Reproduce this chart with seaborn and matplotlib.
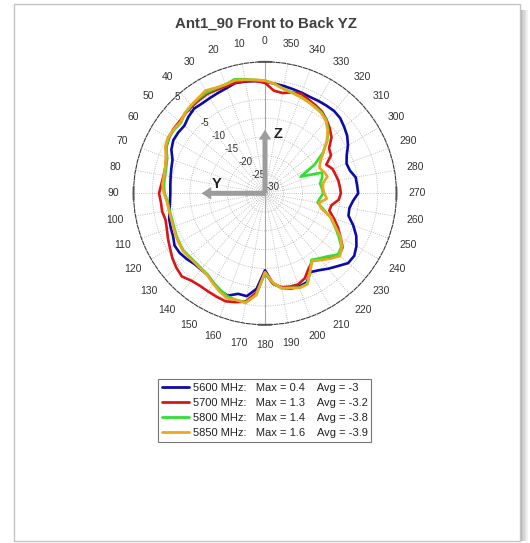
import numpy as np
import pandas as pd
import matplotlib
matplotlib.use("Agg")
import matplotlib.pyplot as plt
from matplotlib.patches import Rectangle
from matplotlib.lines import Line2D
import seaborn as sns

# Measured gain (dB) every 5 degrees, 0..355
angles_deg = list(range(0, 360, 5))

gain_5600 = [-0.3, 0.0, 0.2, 0.4, -0.2, -0.5, -0.7, -0.8, -0.6, -1.2, -2.0, -1.8,
             -1.8, -2.5, -3.8, -4.2, -4.5, -4.7, -4.8, -4.6, -4.2, -3.6, -3.3, -3.0,
             -2.2, -2.3, -2.8, -3.4, -3.5, -3.4, -2.5, -1.5, -1.0, -2.3, -2.2, -4.5,
             -9.5, -6.0, -4.5, -3.7, -3.6, -3.8, -5.8, -5.0, -3.8, -2.6, -1.1, -1.0,
             -1.9, -3.2, -5.0, -7.0, -7.2, -6.5, -5.2, -5.4, -5.5, -6.6, -6.9, -6.0,
             -4.5, -3.3, -2.5, -1.7, -1.4, -1.5, -1.6, -1.7, -1.5, -1.3, -1.0, -0.7]

gain_5700 = [-0.6, 0.0, 0.3, 0.5, 0.3, 0.4, 0.6, 0.4, 0.2, 0.0, -0.3, -0.2,
             -0.5, -1.0, -2.0, -2.6, -2.6, -2.3, -1.8, -2.2, -2.2, -2.6, -2.2, -1.5,
             -0.8, 0.1, 0.8, 1.3, 0.4, 0.1, 0.2, 0.4, 0.6, 0.0, -0.8, -3.5,
             -8.8, -5.8, -4.6, -4.3, -4.2, -5.0, -6.8, -8.0, -7.0, -5.7, -4.3, -4.8,
             -6.8, -8.6, -10.5, -12.3, -12.0, -10.3, -9.8, -10.0, -10.2, -10.6, -10.9, -12.0,
             -9.7, -9.2, -6.9, -5.6, -4.5, -3.5, -3.0, -2.5, -1.8, -2.2, -2.9, -2.6]

gain_5800 = [0.0, 0.3, 0.8, 1.4, 0.8, 0.8, 1.0, 0.8, 0.5, 0.1, -0.8, -0.5,
             -0.4, -1.0, -2.3, -2.8, -3.0, -3.0, -3.3, -4.0, -4.2, -4.3, -4.2, -3.9,
             -3.7, -3.5, -3.8, -3.9, -3.8, -3.5, -2.5, -1.7, -0.8, -0.6, -0.5, -2.8,
             -8.8, -6.0, -4.3, -3.9, -3.3, -3.4, -6.0, -8.4, -7.4, -6.3, -4.6, -5.2,
             -7.4, -9.6, -11.5, -14.0, -15.8, -15.3, -14.5, -14.8, -15.1, -14.3, -13.8, -19.5,
             -14.8, -11.2, -8.4, -6.2, -4.6, -3.8, -3.4, -3.0, -2.6, -2.2, -1.7, -0.8]

gain_5850 = [0.0, 0.3, 0.7, 1.1, 0.8, 1.0, 1.6, 1.0, 0.6, 0.2, -0.6, -0.3,
             -0.2, -0.7, -2.0, -2.5, -2.7, -2.6, -3.1, -3.8, -4.0, -4.1, -4.0, -3.7,
             -3.5, -3.3, -3.6, -3.7, -3.6, -3.3, -2.3, -1.2, -0.3, -0.6, -0.4, -2.8,
             -9.0, -6.2, -4.4, -3.9, -3.2, -3.3, -6.0, -8.1, -6.8, -5.4, -4.0, -5.0,
             -6.8, -9.4, -11.3, -14.5, -15.4, -13.5, -14.2, -14.5, -14.3, -12.8, -13.3, -14.0,
             -13.0, -11.0, -8.6, -6.4, -4.8, -3.9, -3.5, -3.1, -2.7, -2.3, -1.8, -0.8]

frequencies = ["5600", "5700", "5800", "5850"]
avg_values = ["-3", "-3.2", "-3.8", "-3.9"]
colors = ["#0b0ba8", "#d81616", "#2fe02f", "#eaa820"]

ring_values = [-30, -25, -20, -15, -10, -5, 0, 5]
angle_ticks = list(range(0, 360, 10))
r_min, r_max = -30, 5

series = [gain_5600, gain_5700, gain_5800, gain_5850]

# Long-form table for seaborn (each trace closed back on its start)
rows = []
for freq, g in zip(frequencies, series):
    th = np.radians(angles_deg + [360])
    vals = g + [g[0]]
    for t, v in zip(th, vals):
        rows.append({"theta": t, "gain": v, "freq": freq})
df = pd.DataFrame(rows)

sns.set_style("white")
plt.rcParams["font.family"] = ["Liberation Sans", "DejaVu Sans"]

W, H = 530, 543
fig = plt.figure(figsize=(W / 100, H / 100), dpi=100)
fig.patch.set_facecolor("white")

# page frame with a soft shadow on the right
fig.patches.append(Rectangle((13.5 / W, 2.0 / H), (520 - 13.5) / W, (539.5 - 2.0) / H,
                             transform=fig.transFigure, facecolor="none",
                             edgecolor="#c4c4c4", linewidth=1.0, zorder=0))
for i, c in enumerate(["#b8b8b8", "#c8c8c8", "#d6d6d6", "#e2e2e2", "#ececec", "#f4f4f4"]):
    fig.patches.append(Rectangle(((521 + i * 1.2) / W, 2.0 / H), 1.3 / W, (539.5 - 8) / H,
                                 transform=fig.transFigure, facecolor=c,
                                 edgecolor="none", zorder=0))

cx, cy, R = 265.0, 193.3, 131.5
ax = fig.add_axes([(cx - R) / W, (H - cy - R) / H, 2 * R / W, 2 * R / H], projection="polar")
ax.set_theta_zero_location("N")
ax.set_theta_direction(1)
ax.set_ylim(r_min, r_max)
ax.set_facecolor("white")

ax.set_xticks(np.radians(angle_ticks))
ax.set_xticklabels([])
ax.set_yticks(ring_values[1:-1])
ax.set_yticklabels([])
ax.tick_params(length=0)
ax.grid(True, color="#b0b0b0", linestyle=(0, (1, 1.6)), linewidth=0.6)
ax.spines["polar"].set_linestyle((0, (3.5, 1.5)))
ax.spines["polar"].set_color("#3a3a3a")
ax.spines["polar"].set_linewidth(0.8)

# vertical reference axis through the centre
for a in (0, np.pi):
    ax.plot([a, a], [r_min, r_max], color="#a8a8a8", lw=0.8, zorder=1.2)
# solid marks on the rim at the cardinal directions
for a in (0, 90, 180, 270):
    tt = np.radians(np.linspace(a - 2.8, a + 2.8, 12))
    ax.plot(tt, np.full_like(tt, r_max), color="#555555", lw=1.4, clip_on=False, zorder=3)

sns.lineplot(data=df, x="theta", y="gain", hue="freq", hue_order=frequencies,
             palette=dict(zip(frequencies, colors)), sort=False, estimator=None,
             linewidth=1.9, legend=False, ax=ax, zorder=2.5)
ax.set_xlabel("")
ax.set_ylabel("")
ax.set_ylim(r_min, r_max)

# angle labels round the rim
for a in angle_ticks:
    ax.text(np.radians(a), 10.46, str(a), ha="center", va="center", fontsize=7.5,
            color="#333333", clip_on=False)

# ring labels
lab_ang = np.radians(46.3)
for rv in ring_values:
    ax.annotate(str(rv), xy=(lab_ang, rv), xytext=(7.6 * 0.72, 5.8 * 0.72),
                textcoords="offset points", ha="center", va="center", fontsize=7,
                color="#333333", zorder=1.5, annotation_clip=False)

# coordinate-system arrows
arrow_style = "simple,head_length=0.7,head_width=0.9,tail_width=0.36"
for ang in (0.0, np.pi / 2):
    ax.annotate("", xy=(ang, -13.1), xytext=(0.0, r_min),
                arrowprops=dict(arrowstyle=arrow_style, color="#9c9c9c", lw=0,
                                shrinkA=0, shrinkB=0, mutation_scale=10),
                zorder=4)
fig.text(278.5 / W, 1 - 134 / H, "Z", ha="center", va="center", fontsize=10.5,
         fontweight="bold", color="#222222")
fig.text(216.7 / W, 1 - 184 / H, "Y", ha="center", va="center", fontsize=10.5,
         fontweight="bold", color="#222222")

fig.text(266 / W, 1 - 23.3 / H, "Ant1_90 Front to Back YZ", ha="center", va="center",
         fontsize=10.8, fontweight="bold", color="#404040")

handles = [Line2D([0], [0], color=c, lw=2.0) for c in colors]
labels = [f"{f} MHz:   Max = {max(g):g}    Avg = {a}"
          for f, g, a in zip(frequencies, series, avg_values)]
leg = fig.legend(handles, labels, loc="upper left",
                 bbox_to_anchor=(158.2 / W, 1 - 379.2 / H), frameon=True,
                 fancybox=False, edgecolor="#555555", fontsize=8, handlelength=2.45,
                 handletextpad=0.3, borderpad=0.35, labelspacing=0.44,
                 borderaxespad=0)
leg.get_frame().set_linewidth(0.8)
for t in leg.get_texts():
    t.set_color("#222222")

fig.savefig("out.png", dpi=100, facecolor="white")
